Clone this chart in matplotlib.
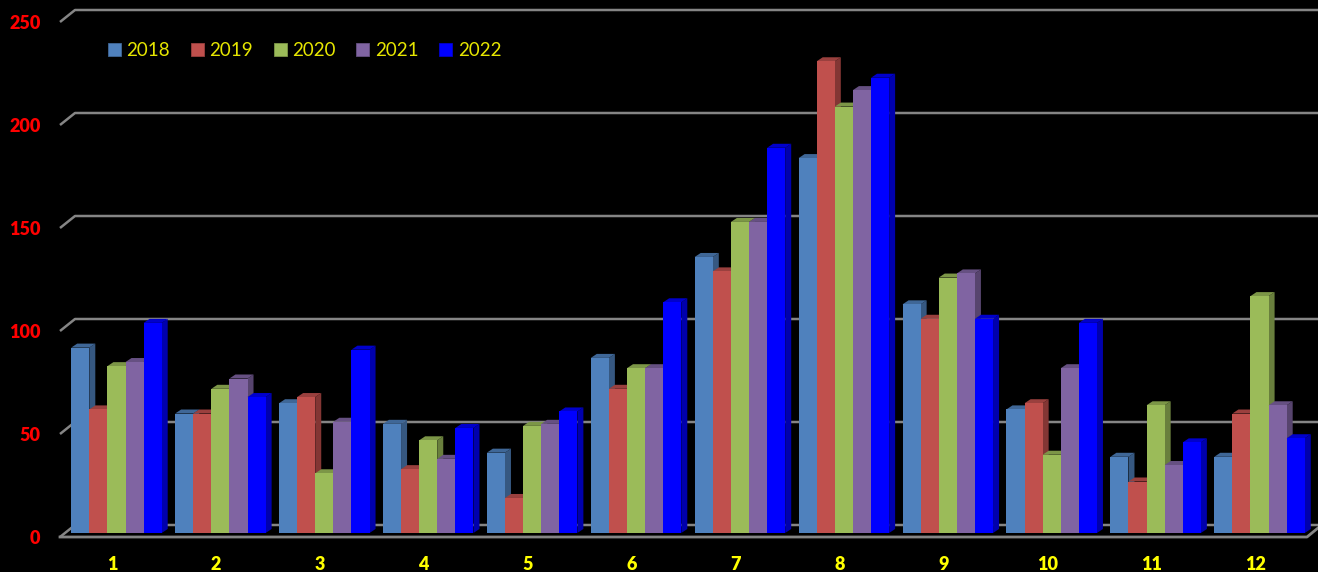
import matplotlib
matplotlib.use("Agg")
import matplotlib.pyplot as plt
from matplotlib.colors import to_rgb
from matplotlib.patches import Patch

months = list(range(1, 13))
y2018 = [90, 58, 63, 53, 39, 85, 134, 182, 111, 60, 37, 37]
y2019 = [60, 58, 66, 31, 17, 70, 127, 229, 104, 63, 25, 58]
y2020 = [81, 70, 29, 45, 52, 80, 151, 207, 124, 38, 62, 115]
y2021 = [83, 75, 54, 36, 53, 80, 151, 215, 126, 80, 33, 62]
y2022 = [102, 66, 89, 51, 59, 112, 187, 221, 104, 102, 44, 46]
series_names = ["2018", "2019", "2020", "2021", "2022"]
series = [y2018, y2019, y2020, y2021, y2022]
colors = ["#4F81BD", "#C0504D", "#9BBB59", "#8064A2", "#0000FF"]
yticks = [0, 50, 100, 150, 200, 250]

W, H = 1318, 572
L, R, B, T = 60, 1307, 537, 22
fig = plt.figure(figsize=(W / 100, H / 100), dpi=100, facecolor="black")
ax = fig.add_axes([L / W, 1 - B / H, (R - L) / W, (B - T) / H], facecolor="black")
ax.set_xlim(0.5, 12.5)
ax.set_ylim(0, 250)
for s in ax.spines.values():
    s.set_visible(False)

# pixel to data unit factors
px = 12 / (R - L)
py = 250 / (B - T)

# walls: gridlines run from the front edge to the back wall
grid = "#858585"
wall_dx, wall_dy = 15 * px, 12 * py
right_end = 12.5 + 30 * px
for v in yticks:
    ax.plot([0.5, 0.5 + wall_dx, right_end], [v, v + wall_dy, v + wall_dy],
            color=grid, lw=1.8, clip_on=False, zorder=1, solid_capstyle="butt")
ax.plot([0.5, 12.5, 12.5 + 11 * px], [0, 0, 9 * py], color=grid, lw=2.0,
        clip_on=False, zorder=1)


def shade(c, f):
    return tuple(x * f for x in to_rgb(c))


# bars with projected depth, drawn left to right
bar_w = 18.1 * px
base = 4 * py
shift = 4.5 * px
dx, dy = 6 * px, 4 * py
z = 2
for m_i, m in enumerate(months):
    for s_i, vals in enumerate(series):
        x0 = m + shift + (s_i - 2.5) * bar_w
        x1 = x0 + bar_w
        top = vals[m_i] + base
        c = colors[s_i]
        ax.fill([x1, x1 + dx, x1 + dx, x1], [base, base + dy, top + dy, top],
                color=shade(c, 0.68), lw=0, zorder=z, clip_on=False)
        ax.fill([x0, x0 + dx, x1 + dx, x1], [top, top + dy, top + dy, top],
                color=shade(c, 0.8), lw=0, zorder=z, clip_on=False)
        ax.bar(x0, vals[m_i], width=bar_w, bottom=base, align="edge", color=c,
               lw=0, zorder=z + 0.5, clip_on=False)
        z += 1

ax.set_xticks(months, [str(m) for m in months])
ax.set_yticks(yticks, [str(v) for v in yticks])
ax.tick_params(axis="both", length=0)
ax.tick_params(axis="x", pad=13.5, labelcolor="#FFFF00")
ax.tick_params(axis="y", pad=14, labelcolor="#FF0000")
for lab in ax.get_xticklabels() + ax.get_yticklabels():
    lab.set_fontfamily("Lato")
    lab.set_fontweight("heavy")
    lab.set_fontsize(13)

handles = [Patch(facecolor=c, edgecolor=shade(c, 0.8), lw=0.6, label=n)
           for c, n in zip(colors, series_names)]
leg = ax.legend(handles=handles, ncol=5, frameon=False, loc="upper left",
                bbox_to_anchor=(108 / W, 1 - 42 / H), bbox_transform=fig.transFigure,
                prop={"family": "Lato", "size": 13.5}, labelcolor="#E6E600",
                handlelength=0.69, handleheight=0.69, handletextpad=0.3,
                columnspacing=1.10, borderpad=0, borderaxespad=0)
leg.set_zorder(1000)

fig.savefig("out.png", dpi=100, facecolor="black")
